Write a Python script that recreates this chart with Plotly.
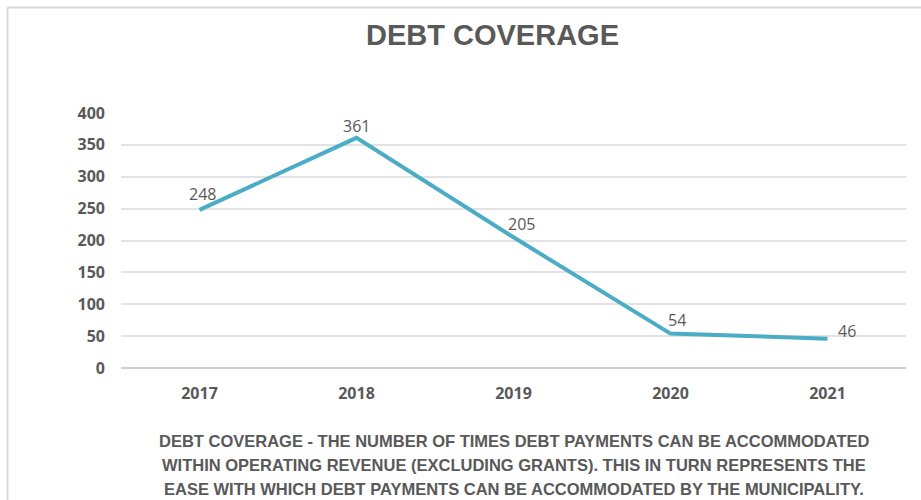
import plotly.graph_objects as go

years = ["2017", "2018", "2019", "2020", "2021"]
coverage = [248, 361, 205, 54, 46]
y_ticks = [0, 50, 100, 150, 200, 250, 300, 350, 400]

title_text = "DEBT COVERAGE"
note_lines = [
    "DEBT COVERAGE - THE NUMBER OF TIMES DEBT PAYMENTS CAN BE ACCOMMODATED",
    "WITHIN OPERATING REVENUE (EXCLUDING GRANTS). THIS IN TURN REPRESENTS THE",
    "EASE WITH WHICH DEBT PAYMENTS CAN BE ACCOMMODATED BY THE MUNICIPALITY.",
]

# pixel offsets of each value label from its point
label_dx = [3, 0, 8, 6, 20]
label_dy = [16, 12, 13, 14, 8]

W, H = 921, 500
ML, MR, MT, MB = 121, 15, 113, 132
PW, PH = W - ML - MR, H - MT - MB


def px_x(x):
    return (x - ML) / PW


def px_y(y):
    return (H - MB - y) / PH


GREY = "#595959"
FONT = "Open Sans, sans-serif"
HEAD = "Liberation Sans, Arial, sans-serif"

fig = go.Figure()
fig.add_trace(go.Scatter(
    x=years,
    y=coverage,
    mode="lines",
    line=dict(color="#4BACC6", width=4),
    hoverinfo="skip",
))

annotations = [dict(
    text="<b>" + title_text + "</b>",
    xref="paper", yref="paper", x=px_x(492), y=px_y(35),
    xanchor="center", yanchor="middle", showarrow=False,
    font=dict(family=HEAD, size=29, color=GREY),
)]
for i, line in enumerate(note_lines):
    annotations.append(dict(
        text="<b>" + line + "</b>",
        xref="paper", yref="paper", x=px_x(514), y=px_y(441 + 24 * i),
        xanchor="center", yanchor="middle", showarrow=False,
        font=dict(family=HEAD, size=16.5, color=GREY),
    ))
# category position is given by index so numeric-looking year names are not
# read as coordinates
for idx, (v, dx, dy) in enumerate(zip(coverage, label_dx, label_dy)):
    annotations.append(dict(
        text=str(v), x=idx, y=v, xref="x", yref="y",
        xanchor="center" if dx < 15 else "left", yanchor="middle",
        xshift=dx if dx < 15 else dx - 12, yshift=dy,
        showarrow=False,
        font=dict(family=FONT, size=16, color=GREY),
    ))

shapes = [
    dict(type="line", xref="paper", yref="paper",
         x0=px_x(7.5), x1=px_x(7.5), y0=px_y(7.5), y1=px_y(H + 5),
         line=dict(color="#D9D9D9", width=2)),
    dict(type="line", xref="paper", yref="paper",
         x0=px_x(7.5), x1=px_x(W + 5), y0=px_y(7.5), y1=px_y(7.5),
         line=dict(color="#D9D9D9", width=2)),
]

fig.update_layout(
    width=W, height=H,
    margin=dict(l=ML, r=MR, t=MT, b=MB),
    paper_bgcolor="white", plot_bgcolor="white",
    showlegend=False,
    annotations=annotations,
    shapes=shapes,
    xaxis=dict(
        type="category", range=[-0.5, 4.5],
        showgrid=False, zeroline=False, showline=False, ticks="",
        tickfont=dict(family=FONT, size=16, color=GREY, weight="bold"),
        ticklabelstandoff=14,
    ),
    yaxis=dict(
        range=[0, 400], tickvals=y_ticks,
        showgrid=True, gridcolor="#E3E3E3", gridwidth=1.5,
        zeroline=True, zerolinecolor="#D0D0D0", zerolinewidth=2,
        showline=False, ticks="",
        tickfont=dict(family=FONT, size=16, color=GREY, weight="bold"),
        ticklabelstandoff=15,
    ),
)

fig.write_html("out.html")
